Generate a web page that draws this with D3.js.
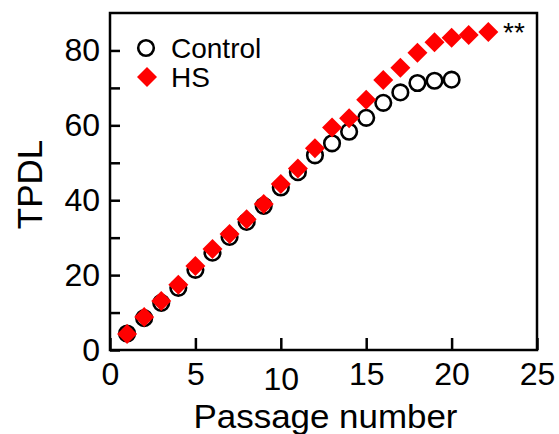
<!DOCTYPE html>
<html>
<head>
<meta charset="utf-8">
<script src="https://cdn.jsdelivr.net/npm/d3@7"></script>
<style>
    body { margin: 0; background: #fff; }
    svg { display: block; font-family: "Liberation Sans", Arial, Helvetica, sans-serif; }
</style>
</head>
<body>
<script>
// passage numbers and TPDL values
var controlPassage = [1, 2, 3, 4, 5, 6, 7, 8, 9, 10, 11, 12, 13, 14, 15, 16, 17, 18, 19, 20];
var controlTPDL = [4.4, 8.5, 12.6, 16.6, 21.4, 26, 30.2, 34.2, 38.5, 43.4, 47.5, 52, 55.2, 58.3, 62, 66, 68.8, 71.3, 71.9, 72.2];
var hsPassage = [1, 2, 3, 4, 5, 6, 7, 8, 9, 10, 11, 12, 13, 14, 15, 16, 17, 18, 19, 20, 21, 22.15];
var hsTPDL = [4.3, 8.8, 13.1, 17.4, 22.4, 27, 31, 34.9, 39, 44.3, 48.5, 53.9, 59.4, 61.9, 66.8, 72.1, 75.4, 79.4, 82.2, 83.4, 84.1, 84.9];
var xTicks = [0, 5, 10, 15, 20, 25];
var yTicks = [0, 10, 20, 30, 40, 50, 60, 70, 80];
var legendItems = ["Control", "HS"];

var W = 559, H = 434;
var margin = { left: 110, right: 22, top: 13, bottom: 84 };

var svg = d3.select("body").append("svg").attr("width", W).attr("height", H);

var x = d3.scaleLinear().domain([0, 25]).range([margin.left, W - margin.right]);
var y = d3.scaleLinear().domain([0, 90]).range([H - margin.bottom, margin.top]);

// axes, ticks point inward
var xAxis = svg.append("g")
    .attr("transform", "translate(0," + y(0) + ")")
    .call(d3.axisBottom(x).tickValues(xTicks).tickSizeInner(-12).tickSizeOuter(0).tickPadding(12));
var yAxis = svg.append("g")
    .attr("transform", "translate(" + x(0) + ",0)")
    .call(d3.axisLeft(y).tickValues(yTicks).tickSizeInner(-10).tickSizeOuter(0).tickPadding(10)
        .tickFormat(function(d) { return d % 20 === 0 ? d : ""; }));

[xAxis, yAxis].forEach(function(g) {
    g.select(".domain").remove();
    g.selectAll("line").attr("stroke", "#000").attr("stroke-width", 2.5);
    g.selectAll("text").attr("fill", "#000").style("font-size", "32px").style("font-family", null);
});
// the "10" label sits a little lower in the original
xAxis.selectAll(".tick text").filter(function(d) { return d === 10; }).attr("y", 17);

// frame
svg.append("rect")
    .attr("x", x(0)).attr("y", y(90))
    .attr("width", x(25) - x(0)).attr("height", y(0) - y(90))
    .attr("fill", "none").attr("stroke", "#000").attr("stroke-width", 2.5);

// axis titles
svg.append("text")
    .attr("x", (x(0) + x(25)) / 2 + 2).attr("y", 428)
    .attr("text-anchor", "middle")
    .attr("textLength", 264).attr("lengthAdjust", "spacingAndGlyphs")
    .style("font-size", "33px")
    .text("Passage number");
svg.append("text")
    .attr("transform", "translate(42," + (y(45) + 3) + ") rotate(-90)")
    .attr("text-anchor", "middle")
    .style("font-size", "35px")
    .text("TPDL");

// control: open circles
svg.append("g").selectAll("circle")
    .data(controlPassage)
    .join("circle")
    .attr("cx", function(d) { return x(d); })
    .attr("cy", function(d, i) { return y(controlTPDL[i]); })
    .attr("r", 7.8)
    .attr("fill", "none")
    .attr("stroke", "#000")
    .attr("stroke-width", 2.6);

// HS: red diamonds, drawn on top
var diamond = d3.symbol().type(d3.symbolSquare).size(200);
svg.append("g").selectAll("path")
    .data(hsPassage)
    .join("path")
    .attr("d", diamond)
    .attr("transform", function(d, i) { return "translate(" + x(d) + "," + y(hsTPDL[i]) + ") rotate(45)"; })
    .attr("fill", "#ff0000");

// legend
var legend = svg.append("g");
legend.append("circle")
    .attr("cx", 146).attr("cy", 48).attr("r", 7.8)
    .attr("fill", "none").attr("stroke", "#000").attr("stroke-width", 2.6);
legend.append("path")
    .attr("d", diamond)
    .attr("transform", "translate(147,77) rotate(45)")
    .attr("fill", "#ff0000");
legend.selectAll("text")
    .data(legendItems)
    .join("text")
    .attr("x", 171)
    .attr("y", function(d, i) { return 58 + i * 29; })
    .style("font-size", "28px")
    .text(function(d) { return d; });

// significance marker
svg.append("text")
    .attr("x", 503).attr("y", 42)
    .style("font-size", "28px")
    .text("**");
</script>
</body>
</html>
